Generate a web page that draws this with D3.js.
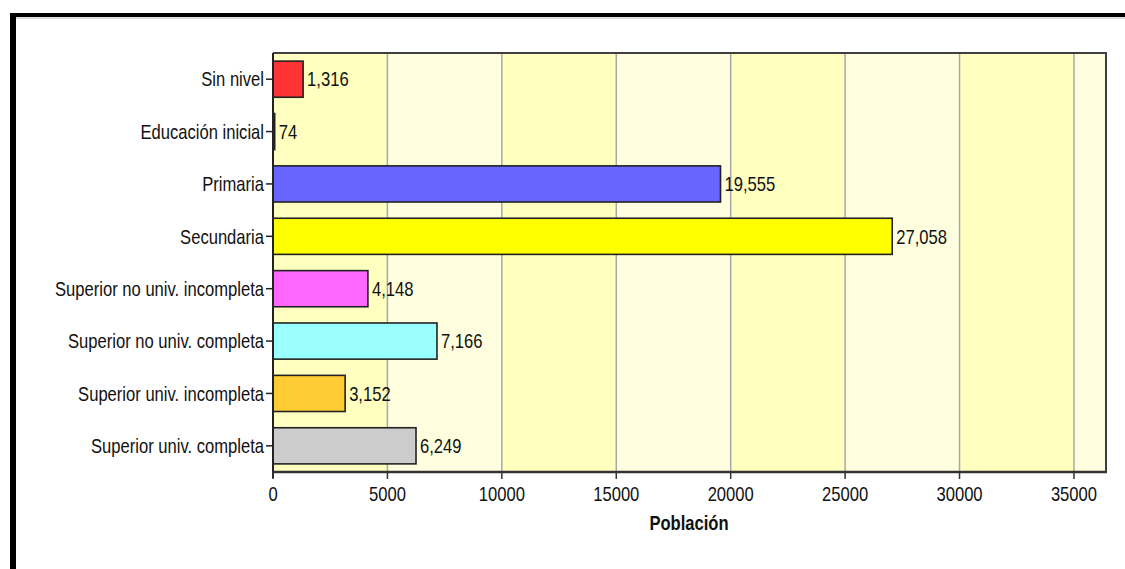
<!DOCTYPE html>
<html lang="es">
<head>
<meta charset="UTF-8">
<title>Población por nivel educativo</title>
<script src="https://d3js.org/d3.v7.min.js"></script>
<style>
    body { margin: 0; background: #fff; }
    svg { display: block; }
</style>
</head>
<body>
<div id="chart"></div>
<script>
// data
const categories = ["Sin nivel", "Educación inicial", "Primaria", "Secundaria",
    "Superior no univ. incompleta", "Superior no univ. completa",
    "Superior univ. incompleta", "Superior univ. completa"];
const values = [1316, 74, 19555, 27058, 4148, 7166, 3152, 6249];
const barColors = ["#ff3333", "#111111", "#6666ff", "#ffff00", "#ff66ff", "#99ffff", "#ffcc33", "#cccccc"];
const xTicks = [0, 5000, 10000, 15000, 20000, 25000, 30000, 35000];
const xTitle = "Población";

const W = 1125, H = 569;
const plotL = 273, plotR = 1106, plotT = 53, plotB = 472;

const svg = d3.select("#chart").append("svg")
    .attr("width", W).attr("height", H);

const x = d3.scaleLinear().domain([0, 36400]).range([plotL, plotR]);
const y = d3.scaleBand().domain(categories).range([plotT, plotB])
    .paddingInner(0.31).paddingOuter(0.155);

// text in the original is narrow and tall, so squeeze it horizontally
function label(g, px, py, txt, anchor, opts = {}) {
    return g.append("text")
        .attr("transform", `translate(${px},${py}) scale(0.83,1)`)
        .attr("text-anchor", anchor)
        .attr("dy", "0.36em")
        .attr("font-family", "'Liberation Sans', Arial, sans-serif")
        .attr("font-size", opts.size || 20)
        .attr("font-weight", opts.bold ? "bold" : "normal")
        .attr("fill", "#111")
        .text(txt);
}

// outer frame (black lines top and left)
svg.append("rect").attr("x", 10).attr("y", 13).attr("width", W - 10).attr("height", 4).attr("fill", "#000");
svg.append("rect").attr("x", 10).attr("y", 13).attr("width", 6).attr("height", H - 13).attr("fill", "#000");
svg.append("line").attr("x1", 16).attr("x2", W).attr("y1", 18).attr("y2", 18)
    .attr("stroke", "#bbb").attr("stroke-width", 1);

// alternating background stripes
const stripes = xTicks.map((t, i) => ({ from: t, to: Math.min(t + 5000, x.domain()[1]), i }));
svg.append("g").selectAll("rect").data(stripes).join("rect")
    .attr("x", d => x(d.from))
    .attr("y", plotT)
    .attr("width", d => x(d.to) - x(d.from))
    .attr("height", plotB - plotT)
    .attr("fill", d => d.i % 2 === 0 ? "#ffffc0" : "#ffffe0");

// vertical grid
svg.append("g").selectAll("line").data(xTicks.slice(1)).join("line")
    .attr("x1", d => x(d)).attr("x2", d => x(d))
    .attr("y1", plotT).attr("y2", plotB)
    .attr("stroke", "#a8a8a8").attr("stroke-width", 1.5);

// plot border top/right
svg.append("path")
    .attr("d", `M${plotL},${plotT}H${plotR}V${plotB}`)
    .attr("fill", "none").attr("stroke", "#404040").attr("stroke-width", 2);

// bars
svg.append("g").selectAll("rect").data(values).join("rect")
    .attr("x", x(0))
    .attr("y", (d, i) => y(categories[i]))
    .attr("width", d => x(d) - x(0))
    .attr("height", y.bandwidth())
    .attr("fill", (d, i) => barColors[i])
    .attr("stroke", "#222")
    .attr("stroke-width", 1.6);

// value labels
const fmt = d3.format(",");
const vals = svg.append("g");
values.forEach((v, i) => {
    label(vals, x(v) + 4, y(categories[i]) + y.bandwidth() / 2, fmt(v), "start");
});

// y axis
const yAx = svg.append("g");
yAx.append("line").attr("x1", plotL).attr("x2", plotL).attr("y1", plotT).attr("y2", plotB + 6)
    .attr("stroke", "#222").attr("stroke-width", 2);
categories.forEach(c => {
    const cy = y(c) + y.bandwidth() / 2;
    yAx.append("line").attr("x1", plotL - 7).attr("x2", plotL).attr("y1", cy).attr("y2", cy)
        .attr("stroke", "#222").attr("stroke-width", 1.5);
    label(yAx, plotL - 9, cy, c, "end");
});

// x axis
const xAx = svg.append("g");
xAx.append("line").attr("x1", plotL).attr("x2", plotR + 1).attr("y1", plotB).attr("y2", plotB)
    .attr("stroke", "#333").attr("stroke-width", 2.5);
xTicks.forEach(t => {
    xAx.append("line").attr("x1", x(t)).attr("x2", x(t)).attr("y1", plotB).attr("y2", plotB + 7)
        .attr("stroke", "#333").attr("stroke-width", 1.5);
    label(xAx, x(t), 494, t, "middle");
});
label(svg, 689, 523, xTitle, "middle", { bold: true, size: 20 });
</script>
</body>
</html>
